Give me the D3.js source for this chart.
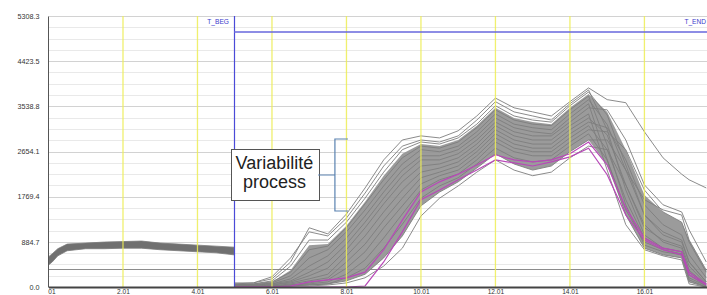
<!DOCTYPE html>
<html><head><meta charset="utf-8">
<script src="https://cdn.jsdelivr.net/npm/d3@7"></script>
<style>html,body{margin:0;padding:0;background:#fff;overflow:hidden}svg{display:block}</style>
</head><body>
<svg id="chart" width="707" height="295"></svg>
<script>
// ---------- data ----------
const xTicks = [0, 2, 4, 6, 8, 10, 12, 14, 16];
const xTickLabels = ["01", "2.01", "4.01", "6.01", "8.01", "10.01", "12.01", "14.01", "16.01"];
const yTicks = [0, 884.7, 1769.4, 2654.1, 3538.8, 4423.5, 5308.3];
const yTickLabels = ["0.0", "884.7", "1769.4", "2654.1", "3538.8", "4423.5", "5308.3"];
const tBeg = 4.98, tEnd = 17.87;
const blueLevel = 4995;
const refLevel = 352;

// before T_BEG : dense band
const xsPre = [0, 0.1, 0.25, 0.5, 1, 1.5, 2, 2.5, 3, 3.5, 4, 4.5, 4.98];
const preTop = [590, 650, 750, 840, 860, 880, 890, 900, 860, 840, 820, 800, 780];
const preBot = [430, 490, 610, 710, 750, 750, 760, 760, 730, 710, 690, 670, 630];

// after T_BEG
const xsPost = [5.0, 5.5, 6.0, 6.5, 7.0, 7.5, 8.0, 8.5, 9.0, 9.5, 10.0, 10.5, 11.0, 11.5, 12.0, 12.5, 13.0, 13.5, 14.0, 14.5, 15.0, 15.5, 16.0, 16.5, 17.0, 17.2, 17.66];
const coreTop = [60, 60, 100, 330, 820, 840, 1200, 1670, 2180, 2610, 2800, 2760, 2880, 3160, 3510, 3310, 3230, 3190, 3510, 3780, 3430, 2690, 1800, 1470, 1270, 920, 330];
const coreBot = [0, 0, 0, 20, 40, 60, 120, 250, 570, 1000, 1590, 1860, 2060, 2330, 2610, 2410, 2290, 2370, 2650, 2880, 2390, 1410, 760, 630, 570, 100, 0];

const c01 = [80, 80, 160, 490, 1160, 1040, 1430, 1940, 2490, 2880, 2960, 2920, 3060, 3350, 3700, 3510, 3430, 3350, 3630, 3900, 3670, 3610, 3040, 2530, 2210, 2100, 1940];
const c02 = [60, 80, 200, 570, 1080, 1000, 1350, 1840, 2370, 2760, 2880, 2840, 2960, 3270, 3630, 3430, 3350, 3270, 3590, 3860, 3080, 1900, 1020, 760, 690, 290, 40];
const c03 = [60, 60, 120, 410, 920, 920, 1270, 1740, 2250, 2690, 2840, 2800, 2920, 3190, 3550, 3350, 3270, 3230, 3550, 3820, 3370, 2390, 1410, 1080, 920, 490, 100];
const c04 = [40, 60, 100, 290, 730, 800, 1160, 1630, 2100, 2530, 2760, 2720, 2840, 3120, 3470, 3270, 3190, 3160, 3470, 3740, 2780, 1610, 820, 690, 630, 180, 20];
const c05 = [40, 40, 80, 220, 570, 730, 1080, 1510, 1980, 2410, 2690, 2650, 2760, 3040, 3390, 3190, 3120, 3080, 3390, 3670, 3180, 2290, 1710, 1510, 1410, 920, 330];
const c06 = [40, 40, 60, 160, 410, 610, 960, 1390, 1860, 2290, 2570, 2570, 2690, 2960, 3310, 3120, 3040, 3000, 3310, 3590, 2490, 1410, 760, 630, 570, 100, 0];
const c07 = [20, 40, 60, 120, 290, 490, 840, 1270, 1740, 2180, 2490, 2490, 2610, 2880, 3230, 3040, 2960, 2960, 3230, 3510, 3470, 2880, 2000, 1610, 1470, 1120, 490];
const c08 = [20, 20, 40, 100, 220, 370, 730, 1160, 1630, 2060, 2370, 2410, 2530, 2800, 3160, 2960, 2880, 2880, 3160, 3390, 2290, 1220, 730, 610, 530, 60, 0];
const c09 = [20, 20, 40, 80, 160, 250, 610, 1000, 1470, 1900, 2250, 2330, 2450, 2720, 3080, 2880, 2800, 2800, 3080, 3310, 2980, 2000, 1160, 920, 800, 410, 60];
const c10 = [20, 20, 20, 60, 120, 180, 490, 840, 1310, 1740, 2140, 2250, 2370, 2650, 3000, 2800, 2720, 2720, 3000, 3230, 3120, 2490, 1610, 1220, 1020, 630, 180];
const c11 = [0, 20, 20, 40, 80, 140, 370, 690, 1160, 1590, 2020, 2180, 2290, 2570, 2920, 2720, 2650, 2650, 2920, 3160, 2690, 1710, 960, 760, 690, 240, 20];
const c12 = [0, 0, 20, 40, 60, 100, 250, 530, 960, 1430, 1900, 2100, 2210, 2490, 2840, 2650, 2570, 2570, 2840, 3080, 3040, 2690, 1900, 1470, 1270, 880, 290];
const c13 = [0, 0, 20, 20, 40, 60, 180, 370, 760, 1230, 1740, 1980, 2140, 2410, 2720, 2530, 2450, 2490, 2760, 3000, 2490, 1510, 880, 730, 650, 140, 0];
const c14 = [0, 0, 0, 20, 40, 60, 120, 250, 570, 1000, 1590, 1860, 2060, 2330, 2610, 2410, 2290, 2370, 2650, 2880, 2880, 2290, 1410, 1020, 880, 490, 100];
const c15 = [0, 0, 0, 20, 20, 40, 80, 180, 410, 760, 1390, 1740, 1980, 2250, 2490, 2290, 2180, 2250, 2530, 2760, 2690, 2000, 1220, 880, 760, 330, 40];
const grayCurves = [c01, c02, c03, c04, c05, c06, c07, c08, c09, c10, c11, c12, c13, c14, c15];

const m01 = [0, 0, 0, 0, 0, 0, 0, 20, 490, 1080, 1710, 1900, 2100, 2290, 2490, 2430, 2370, 2450, 2550, 2720, 2200, 1410, 920, 730, 630, 240, 40];
const m02 = [0, 0, 0, 20, 100, 140, 180, 290, 730, 1310, 1860, 2060, 2210, 2390, 2590, 2490, 2450, 2490, 2610, 2840, 2390, 1550, 960, 760, 690, 290, 60];
const magentaCurves = [m01, m02];

// annotation (data coordinates)
const noteLines = ["Variabilité", "process"];
const noteBox = {x0: 4.89, x1: 7.24, v0: 2703, v1: 1704};
const bracket = {x: 7.69, xArm: 8.04, vTop: 2899, vBot: 1489, vMid: 2194};

// ---------- drawing ----------
const W = 707, H = 295;
const x = d3.scaleLinear().domain([0, 17.68]).range([48.5, 707]);
const y = d3.scaleLinear().domain([0, 5308.3]).range([287, 16]);
const svg = d3.select("#chart");
const FONT = "'Liberation Sans', Arial, sans-serif";
const crisp = v => Math.round(v) + 0.5;

// horizontal grid
const minorGrid = d3.range(0, 25).map(i => i * 221.175);
svg.append("g").selectAll("line").data(minorGrid).join("line")
  .attr("x1", x(0)).attr("x2", W)
  .attr("y1", d => crisp(y(d))).attr("y2", d => crisp(y(d)))
  .attr("stroke", (d, i) => i % 4 === 0 ? "#d2d2d2" : "#e9e9e9")
  .attr("stroke-width", 1);

// reference line
svg.append("line").attr("x1", x(0)).attr("x2", W)
  .attr("y1", crisp(y(refLevel))).attr("y2", crisp(y(refLevel)))
  .attr("stroke", "#8c8c8c").attr("stroke-width", 1);

// pre band
svg.append("path")
  .datum(xsPre.map((d, i) => [d, preTop[i], preBot[i]]))
  .attr("d", d3.area().x(d => x(d[0])).y0(d => y(d[2])).y1(d => y(d[1])))
  .attr("fill", "#707070").attr("stroke", "#7a7a7a").attr("stroke-width", 0.8);

// post core band
svg.append("path")
  .datum(xsPost.map((d, i) => [d, coreTop[i], coreBot[i]]))
  .attr("d", d3.area().x(d => x(d[0])).y0(d => y(d[2])).y1(d => y(d[1])))
  .attr("fill", "#929292").attr("opacity", 0.92);

const line = d3.line().x((d, i) => x(xsPost[i])).y(d => y(d));
svg.append("g").selectAll("path").data(grayCurves).join("path")
  .attr("d", line).attr("fill", "none")
  .attr("stroke", "#7e7e7e").attr("stroke-width", 0.9);

svg.append("g").selectAll("path").data(magentaCurves).join("path")
  .attr("d", line).attr("fill", "none")
  .attr("stroke", "#b848b8").attr("stroke-width", 1.2);

// yellow verticals
svg.append("g").selectAll("line").data(xTicks.filter(d => d > 0)).join("line")
  .attr("x1", d => x(d)).attr("x2", d => x(d))
  .attr("y1", y(5308.3)).attr("y2", y(0))
  .attr("stroke", "#eeee55").attr("stroke-width", 1.3).attr("opacity", 0.85);

// T_BEG / T_END
svg.append("line").attr("x1", crisp(x(tBeg))).attr("x2", crisp(x(tBeg)))
  .attr("y1", y(5308.3)).attr("y2", y(0))
  .attr("stroke", "#4a4ad8").attr("stroke-width", 1.2);
svg.append("line").attr("x1", x(tBeg)).attr("x2", x(tEnd))
  .attr("y1", y(blueLevel)).attr("y2", y(blueLevel))
  .attr("stroke", "#6767dd").attr("stroke-width", 1.6);
svg.append("text").attr("x", x(tBeg) - 5).attr("y", 23.5)
  .attr("text-anchor", "end").attr("font-family", FONT).attr("font-size", 6.6)
  .attr("fill", "#3a3acc").text("T_BEG");
svg.append("text").attr("x", Math.min(x(tEnd) - 5, W - 1)).attr("y", 23.5)
  .attr("text-anchor", "end").attr("font-family", FONT).attr("font-size", 6.6)
  .attr("fill", "#3a3acc").text("T_END");

// axes
const yAxis = d3.axisLeft(y).tickValues(yTicks).tickSize(0).tickPadding(8.5)
  .tickFormat((d, i) => yTickLabels[i]);
const gy = svg.append("g").attr("transform", "translate(48,0)").call(yAxis);
gy.select(".domain").attr("stroke", "#555").attr("stroke-width", 1);
gy.selectAll("text").attr("font-family", FONT).attr("font-size", 7.2).attr("fill", "#333");

const xAxis = d3.axisBottom(x).tickValues(xTicks).tickSize(0).tickPadding(2.2)
  .tickFormat((d, i) => xTickLabels[i]);
const gx = svg.append("g").attr("transform", "translate(0,287)").call(xAxis);
gx.select(".domain").attr("stroke", "#444").attr("stroke-width", 2);
gx.selectAll("text").attr("font-family", FONT).attr("font-size", 6.6).attr("fill", "#333")
  .attr("dx", (d, i) => i === 0 ? 3 : 0);

// annotation
const bx0 = x(noteBox.x0), bx1 = x(noteBox.x1), by0 = y(noteBox.v0), by1 = y(noteBox.v1);
svg.append("rect").attr("x", crisp(bx0)).attr("y", crisp(by0))
  .attr("width", Math.round(bx1 - bx0)).attr("height", Math.round(by1 - by0))
  .attr("fill", "#fff").attr("stroke", "#555").attr("stroke-width", 1);
noteLines.forEach((t, i) => {
  svg.append("text").attr("x", (bx0 + bx1) / 2).attr("y", by0 + 20 + i * 19)
    .attr("text-anchor", "middle").attr("font-family", FONT).attr("font-size", 18)
    .attr("fill", "#222").text(t);
});
const bc = "#5a82b0";
const bxv = x(bracket.x), bxa = x(bracket.xArm);
svg.append("path")
  .attr("d", `M${bxa},${y(bracket.vTop)}H${bxv}V${y(bracket.vBot)}H${bxa}M${bx1},${y(bracket.vMid)}H${bxv}`)
  .attr("fill", "none").attr("stroke", bc).attr("stroke-width", 1.2);
</script>
</body></html>
